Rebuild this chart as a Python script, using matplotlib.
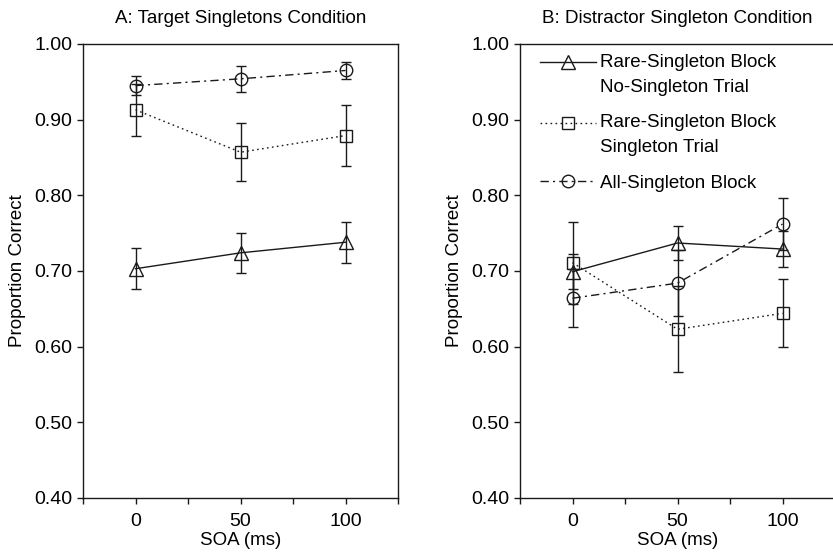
import matplotlib
matplotlib.use("Agg")
import matplotlib.pyplot as plt
from matplotlib.lines import Line2D
from matplotlib.legend_handler import HandlerLine2D

plt.rcParams['font.family'] = ['Liberation Sans', 'DejaVu Sans']

soa = [0, 50, 100]

# Panel A: Target Singletons Condition
a_tri = [0.703, 0.724, 0.738]
a_tri_err = [0.027, 0.026, 0.027]
a_sq = [0.913, 0.857, 0.879]
a_sq_err = [0.034, 0.038, 0.040]
a_circ = [0.945, 0.954, 0.965]
a_circ_err = [0.013, 0.017, 0.011]

# Panel B: Distractor Singleton Condition
b_tri = [0.699, 0.737, 0.729]
b_tri_err = [0.023, 0.022, 0.024]
b_sq = [0.711, 0.623, 0.644]
b_sq_err = [0.054, 0.057, 0.045]
b_circ = [0.664, 0.684, 0.762]
b_circ_err = [0.038, 0.044, 0.034]

titles = ["A: Target Singletons Condition", "B: Distractor Singleton Condition"]
labels = ["Rare-Singleton Block\nNo-Singleton Trial",
          "Rare-Singleton Block\nSingleton Trial",
          "All-Singleton Block"]
yticks = [0.40, 0.50, 0.60, 0.70, 0.80, 0.90, 1.00]
xticks = [-25, 0, 25, 50, 75, 100, 125]
xticklabels = ["", "0", "", "50", "", "100", ""]

FS = 13.5
TFS = 14
INK = '#1a1a1a'

fig = plt.figure(figsize=(8.33, 5.54), dpi=100)
ax1 = fig.add_axes([83/833, 1-498/554, 315/833, 454/554])
ax2 = fig.add_axes([520/833, 1-498/554, 315/833, 454/554])

styles = [
    dict(ls='-', marker='^', ms=9.5),
    dict(ls=(0, (1.2, 2.4)), marker='s', ms=8.5),
    dict(ls=(0, (6, 3, 1.5, 3)), marker='o', ms=9),
]

data = [
    [(a_tri, a_tri_err), (a_sq, a_sq_err), (a_circ, a_circ_err)],
    [(b_tri, b_tri_err), (b_sq, b_sq_err), (b_circ, b_circ_err)],
]

for ax, title, series in zip([ax1, ax2], titles, data):
    for (vals, errs), st in zip(series, styles):
        ax.errorbar(soa, vals, yerr=errs, color=INK, lw=1.0,
                    ls=st['ls'], marker=st['marker'], ms=st['ms'],
                    mfc='none', mec=INK, mew=1.0,
                    capsize=3.8, elinewidth=1.0, capthick=1.0)
    ax.set_xlim(-25, 125)
    ax.set_ylim(0.40, 1.00)
    ax.set_yticks(yticks)
    ax.set_yticklabels([f"{v:.2f}" for v in yticks], fontsize=TFS)
    ax.set_xticks(xticks)
    ax.set_xticklabels(xticklabels, fontsize=TFS)
    ax.tick_params(direction='out', length=4.5, width=1.0, color=INK, pad=3)
    ax.tick_params(axis='x', pad=6)
    ax.set_title(title, fontsize=FS, pad=15)
    ax.set_xlabel("SOA (ms)", fontsize=FS, labelpad=2)
    ax.set_ylabel("Proportion Correct", fontsize=FS, labelpad=6)
    for s in ax.spines.values():
        s.set_linewidth(1.0)
        s.set_color(INK)


class TopHandler(HandlerLine2D):
    def __init__(self, shift=0.0, **kw):
        super().__init__(**kw)
        self.shift = shift

    def create_artists(self, legend, orig_handle, xdescent, ydescent,
                       width, height, fontsize, trans):
        return super().create_artists(legend, orig_handle, xdescent,
                                      ydescent - self.shift, width, height,
                                      fontsize, trans)


handles = []
for st in styles:
    handles.append(Line2D([0], [0], color=INK, lw=1.0, ls=st['ls'],
                          marker=st['marker'], ms=st['ms'], mfc='none',
                          mec=INK, mew=1.0))
LFS = 13.5
shift = 18.0
hmap = {handles[0]: TopHandler(shift=shift, numpoints=1),
        handles[1]: TopHandler(shift=shift, numpoints=1),
        handles[2]: TopHandler(shift=0.0, numpoints=1)}
leg = ax2.legend(handles, labels, loc='upper left', frameon=False, fontsize=LFS,
                 handlelength=3.0, handletextpad=0.2, labelspacing=1.0,
                 borderaxespad=0.0, bbox_to_anchor=(0.04, 0.995),
                 handler_map=hmap)
for t in leg.get_texts():
    t.set_linespacing(1.6)

fig.savefig("out.png", dpi=100)
